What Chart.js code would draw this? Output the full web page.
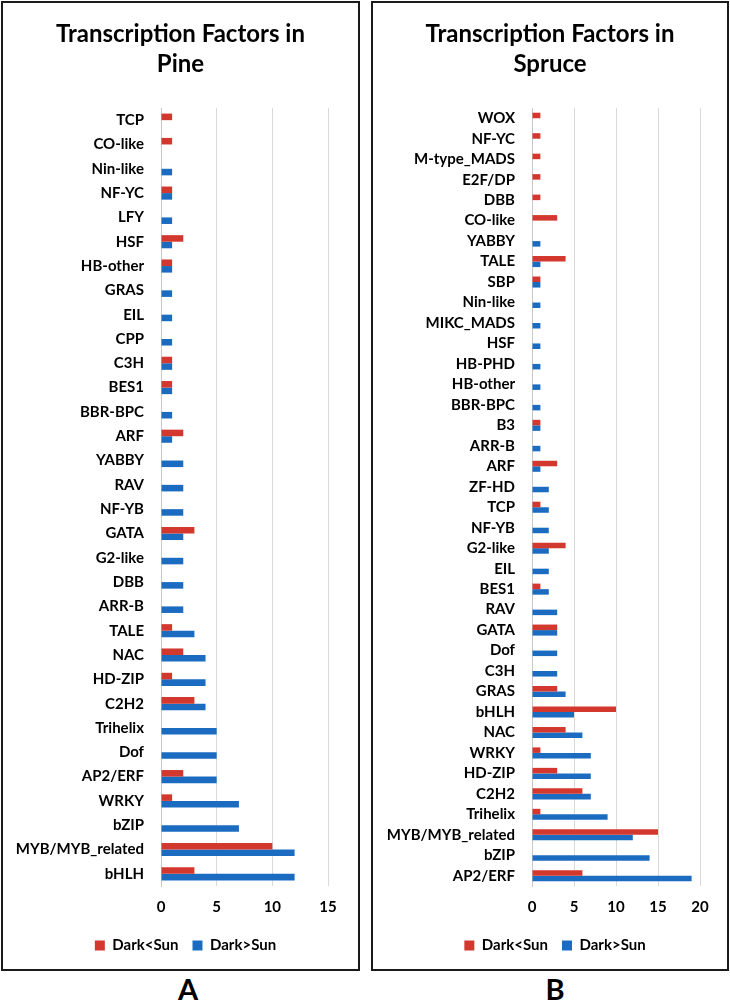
<!DOCTYPE html>
<html>
<head>
<meta charset="utf-8">
<script src="https://cdn.jsdelivr.net/npm/chart.js@4/dist/chart.umd.min.js"></script>
<style>
  body { margin: 0; background: #fff; width: 730px; height: 1008px; position: relative; font-family: Lato, sans-serif; }
  .panel { position: absolute; top: 1px; height: 970px; border: 2px solid #1a1a1a; box-sizing: border-box; background: #fff; }
  #panelA { left: 1px; width: 359px; }
  #panelB { left: 371px; width: 358px; }
  .letter { position: absolute; top: 974px; font-weight: bold; font-size: 29px; line-height: 29px; color: #000; width: 60px; text-align: center; }
</style>
</head>
<body>
<div class="panel" id="panelA"><canvas id="chartA" width="355" height="966"></canvas></div>
<div class="panel" id="panelB"><canvas id="chartB" width="354" height="966"></canvas></div>
<div class="letter" style="left:158px">A</div>
<div class="letter" style="left:525px">B</div>
<script>
// pine, listed top to bottom as in the figure
var pineLabels = ["TCP","CO-like","Nin-like","NF-YC","LFY","HSF","HB-other","GRAS","EIL","CPP","C3H","BES1","BBR-BPC","ARF","YABBY","RAV","NF-YB","GATA","G2-like","DBB","ARR-B","TALE","NAC","HD-ZIP","C2H2","Trihelix","Dof","AP2/ERF","WRKY","bZIP","MYB/MYB_related","bHLH"];
var pineDarkLess = [1,1,0,1,0,2,1,0,0,0,1,1,0,2,0,0,0,3,0,0,0,1,2,1,3,0,0,2,1,0,10,3];
var pineDarkMore = [0,0,1,1,1,1,1,1,1,1,1,1,1,1,2,2,2,2,2,2,2,3,4,4,4,5,5,5,7,7,12,12];
var pineTicks = [0,5,10,15];

// spruce
var spruceLabels = ["WOX","NF-YC","M-type_MADS","E2F/DP","DBB","CO-like","YABBY","TALE","SBP","Nin-like","MIKC_MADS","HSF","HB-PHD","HB-other","BBR-BPC","B3","ARR-B","ARF","ZF-HD","TCP","NF-YB","G2-like","EIL","BES1","RAV","GATA","Dof","C3H","GRAS","bHLH","NAC","WRKY","HD-ZIP","C2H2","Trihelix","MYB/MYB_related","bZIP","AP2/ERF"];
var spruceDarkLess = [1,1,1,1,1,3,0,4,1,0,0,0,0,0,0,1,0,3,0,1,0,4,0,1,0,3,0,0,3,10,4,1,3,6,1,15,0,6];
var spruceDarkMore = [0,0,0,0,0,0,1,1,1,1,1,1,1,1,1,1,1,1,2,2,2,2,2,2,3,3,3,3,4,5,6,7,7,7,9,12,14,19];
var spruceTicks = [0,5,10,15,20];

var seriesNames = ["Dark<Sun","Dark>Sun"];
var red = "#D3382E";
var blue = "#1B6CC1";
var fontName = "Lato, 'Noto Sans', sans-serif";

// legend sits a little right of centre in the original
var nudgeLegend = {
  id: 'nudgeLegend',
  afterLayout: function(chart) {
    chart.legend.left += 5;
    chart.legend.right += 5;
  }
};

function drawPanel(id, species, labels, less, more, ticks, yWidth, rightGap) {
  var ctx = document.getElementById(id);
  return new Chart(ctx, {
    type: 'bar',
    data: {
      labels: labels,
      datasets: [
        { label: seriesNames[0], data: less, backgroundColor: red, categoryPercentage: 0.54, barPercentage: 1.0 },
        { label: seriesNames[1], data: more, backgroundColor: blue, categoryPercentage: 0.54, barPercentage: 1.0 }
      ]
    },
    plugins: [nudgeLegend],
    options: {
      indexAxis: 'y',
      responsive: false,
      maintainAspectRatio: false,
      animation: false,
      layout: { padding: { left: 0, right: 0, top: 0, bottom: 6 } },
      plugins: {
        title: {
          display: true,
          text: ["Transcription Factors in", species],
          color: "#000",
          font: { family: fontName, size: 24, weight: 'bold', lineHeight: 1.25 },
          padding: { top: 16, bottom: 29 }
        },
        legend: {
          position: 'bottom',
          labels: {
            color: "#000",
            font: { family: fontName, size: 15, weight: 'bold' },
            boxWidth: 10, boxHeight: 10, padding: 14
          }
        },
        tooltip: { enabled: false }
      },
      scales: {
        x: {
          min: ticks[0],
          max: ticks[ticks.length - 1],
          afterBuildTicks: function(scale) {
            scale.ticks = ticks.map(function(v) { return { value: v }; });
          },
          afterFit: function(scale) { scale.height = 38; },
          grid: { color: "#d9d9d9", drawTicks: false },
          border: { display: false },
          ticks: { color: "#000", padding: 12, font: { family: fontName, size: 15, weight: 'bold' } }
        },
        y: {
          afterFit: function(scale) { scale.width = yWidth; },
          grid: { display: false, drawTicks: false },
          border: { display: true, color: "#c8c8c8" },
          ticks: { color: "#000", padding: 17, autoSkip: false, font: { family: fontName, size: 15, weight: 'bold' } }
        },
        // empty strip on the right so the plot stops short of the frame
        gap: {
          type: 'linear',
          position: 'right',
          afterFit: function(scale) { scale.width = rightGap; },
          grid: { display: false },
          border: { display: false },
          ticks: { display: false }
        }
      }
    }
  });
}

drawPanel("chartA", "Pine", pineLabels, pineDarkLess, pineDarkMore, pineTicks, 158, 30);
drawPanel("chartB", "Spruce", spruceLabels, spruceDarkLess, spruceDarkMore, spruceTicks, 159, 27);
</script>
</body>
</html>
